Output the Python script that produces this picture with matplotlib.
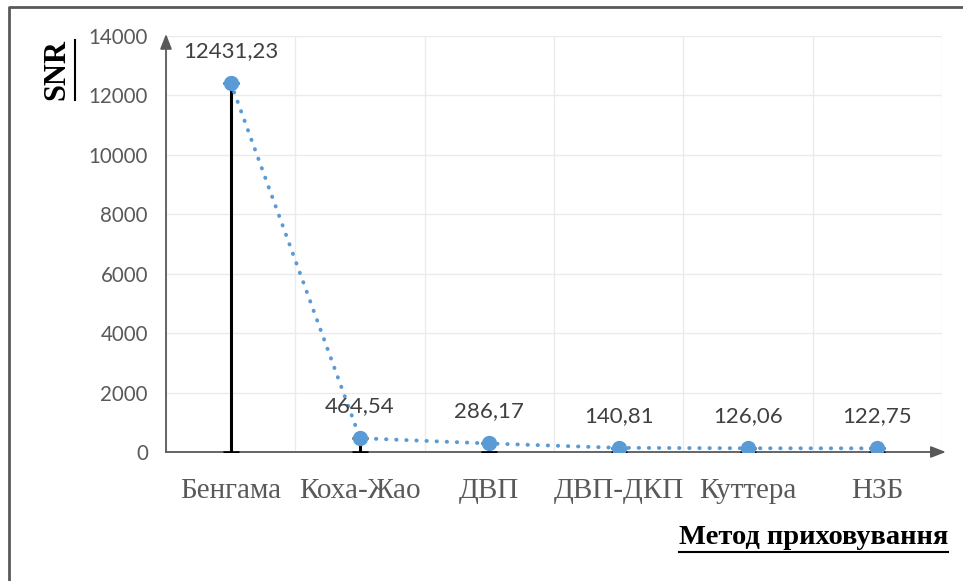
import matplotlib
matplotlib.use("Agg")
import matplotlib.pyplot as plt
from matplotlib.lines import Line2D
import numpy as np

# Data
methods = ["Бенгама", "Коха-Жао", "ДВП", "ДВП-ДКП", "Куттера", "НЗБ"]
snr = [12431.23, 464.54, 286.17, 140.81, 126.06, 122.75]
snr_labels = ["12431,23", "464,54", "286,17", "140,81", "126,06", "122,75"]
y_ticks = [0, 2000, 4000, 6000, 8000, 10000, 12000, 14000]

W, H = 963, 581
fig = plt.figure(figsize=(W / 100, H / 100), dpi=100)
ax = fig.add_axes([166 / W, 1 - 452 / H, 776 / W, 416 / H])

x = np.arange(len(methods))
ax.set_xlim(-0.5, len(methods) - 0.5)
ax.set_ylim(0, 14000)

# grid: horizontal at major y ticks, vertical between categories
ax.set_yticks(y_ticks)
ax.set_xticks(x)
ax.set_xticks(np.arange(-0.5, len(methods), 1.0), minor=True)
ax.grid(axis="y", which="major", color="#ebebeb", lw=1.0, zorder=0)
ax.grid(axis="x", which="minor", color="#ebebeb", lw=1.0, zorder=0)
ax.set_axisbelow(True)

for s in ax.spines.values():
    s.set_visible(False)

ax.tick_params(axis="both", which="both", length=0)
ax.tick_params(axis="y", pad=13)
ax.tick_params(axis="x", pad=19)
ax.set_yticklabels([str(v) for v in y_ticks], fontfamily="Lato", fontsize=14.8, color="#595959")
ax.set_xticklabels(methods, fontfamily="Liberation Serif", fontsize=21, color="#595959")

# axis lines with arrow heads
arrow = dict(arrowstyle="-|>,head_length=0.9,head_width=0.35", color="#595959", lw=1.3,
             shrinkA=0, shrinkB=0)
ax.annotate("", xy=(0, 1.005), xytext=(0, 0), xycoords="axes fraction",
            textcoords="axes fraction", arrowprops=arrow, annotation_clip=False)
ax.annotate("", xy=(1.005, 0), xytext=(0, 0), xycoords="axes fraction",
            textcoords="axes fraction", arrowprops=arrow, annotation_clip=False)

# drop lines from each point to zero
ax.errorbar(x, snr, yerr=[snr, np.zeros(len(snr))], fmt="none", ecolor="black",
            elinewidth=2.2, capsize=6, capthick=1.8, zorder=3)

# dotted series line with markers
ax.plot(x, snr, color="#5b9bd5", lw=2.8, linestyle=(0, (0.1, 2.5)),
        dash_capstyle="round", zorder=4)
ax.plot(x, snr, linestyle="none", marker="o", markersize=10, color="#5b9bd5", zorder=5)

for xi, yi, lab in zip(x, snr, snr_labels):
    ax.annotate(lab, xy=(xi, yi), xytext=(0, 23), textcoords="offset points",
                ha="center", va="center", fontfamily="Lato", fontsize=16,
                color="#404040", zorder=6)

# axis titles
ylab = fig.text(57 / W, 1 - 70 / H, "SNR", rotation=90, ha="center", va="center",
                fontfamily="Liberation Serif", fontweight="bold", fontsize=22, color="black")
xlab = fig.text(948 / W, 1 - 537 / H, "Метод приховування", ha="right", va="center",
                fontfamily="Liberation Serif", fontweight="bold", fontsize=20.5, color="black")

fig.canvas.draw()
r = fig.canvas.get_renderer()
bb = ylab.get_window_extent(r)
fig.add_artist(Line2D([(bb.x1 + 3) / W] * 2, [bb.y0 / H, bb.y1 / H],
                      color="black", lw=1.5, transform=fig.transFigure))
bb = xlab.get_window_extent(r)
fig.add_artist(Line2D([bb.x0 / W, bb.x1 / W], [(bb.y0 - 2) / H] * 2,
                      color="black", lw=1.5, transform=fig.transFigure))

# outer frame (left and top edges)
fig.add_artist(Line2D([9 / W, 9 / W, 1.0], [0.0, 1 - 7 / H, 1 - 7 / H],
                      color="#595959", lw=2.0, transform=fig.transFigure))

fig.savefig("out.png", dpi=100)
